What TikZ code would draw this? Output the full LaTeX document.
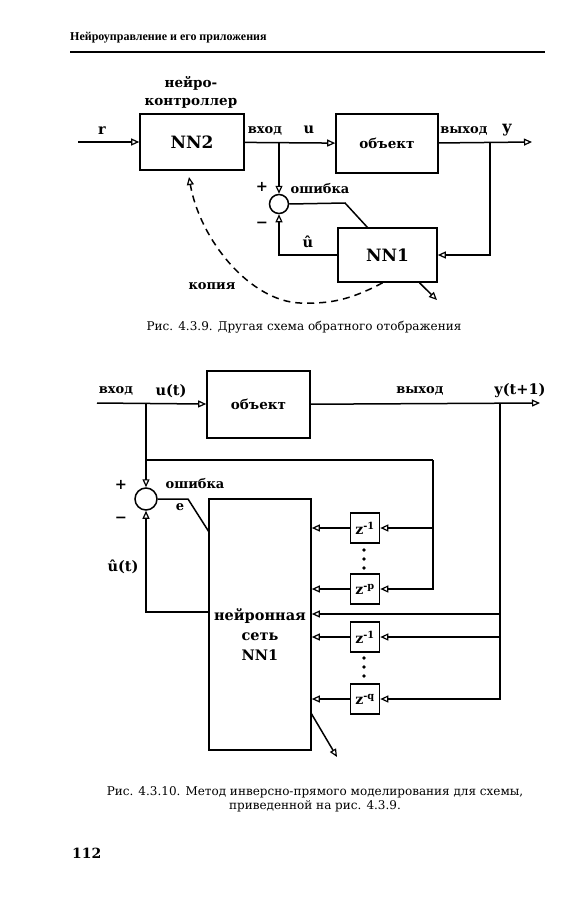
\documentclass[tikz,border=0pt]{standalone}
\usepackage{fontspec}
\setmainfont{DejaVu Serif}
\newfontfamily\headfont{Liberation Serif}
\usetikzlibrary{arrows.meta,positioning,calc}

\begin{document}
\begin{tikzpicture}[x=1pt,y=-1pt,
  box/.style={draw,line width=1.6pt,inner sep=0pt,font=\bfseries\fontsize{13.5}{15}\selectfont},
  bignm/.style={font=\bfseries\fontsize{17}{19}\selectfont},
  wire/.style={line width=1.5pt},
  sig/.style={wire,-{Triangle[open,length=8pt,width=7pt,line width=1.2pt]}},
  sumc/.style={draw,circle,line width=1.5pt,inner sep=0pt},
  lbl/.style={font=\bfseries\fontsize{13}{15}\selectfont,inner sep=0pt},
  var/.style={font=\bfseries\fontsize{14.5}{16}\selectfont,inner sep=0pt},
  delay/.style={draw,line width=1.6pt,minimum width=29pt,minimum height=30pt,inner sep=0pt,
    font=\bfseries\fontsize{14}{16}\selectfont},
  dot/.style={circle,fill,inner sep=0pt,minimum size=3.8pt},
  capt/.style={font=\fontsize{12}{14}\selectfont,align=center,inner sep=0pt}]
\useasboundingbox (0,0) rectangle (564,900);

% page head
\node[anchor=west,inner sep=0pt,font=\headfont\bfseries\fontsize{12}{14}\selectfont]
  (head) at (70,38) {Нейроуправление и его приложения};
\draw[line width=2.2pt] (70,52) -- (545,52);

% --- fig. 4.3.9 ---
\node[box,bignm,minimum width=104pt,minimum height=56pt] (nn2) at (192,142) {NN2};
\node[box,minimum width=102pt,minimum height=59pt] (obj) at (387,143.5) {объект};
\node[box,bignm,minimum width=99pt,minimum height=54pt] (nn1) at (387.5,255) {NN1};
\node[sumc,minimum size=19pt] (sum1) at (279,204) {};
\node[lbl,align=center,font=\bfseries\fontsize{13.5}{18}\selectfont] (ctl) at (191,92) {нейро-\\контроллер};

\coordinate (rin) at (78,142);
\coordinate (j1) at (279,142);
\coordinate (j2) at (490,142);
\coordinate (yout) at (532,142);
\coordinate (k1) at (345,203);
\coordinate (e1) at (368,228);
\coordinate (o1) at (437,300);
\coordinate (cp) at (300,303);
\coordinate (tip) at (189,177);

\draw[sig] (rin) -- (nn2);
\draw[sig] (nn2) -- (obj);
\draw[sig] (obj) -- (yout);
\draw[sig] (j1) -- (sum1.north);
\draw[sig] (j2) |- (nn1);
\draw[wire] (sum1.east) -- (k1) -- (e1);
\draw[sig] (nn1.west) -| (sum1.south);
\draw[sig] (nn1.-41) -- (o1);
\draw[wire,dash pattern=on 7pt off 5pt,-{Triangle[open,length=8pt,width=7pt,line width=1.2pt]}]
  (nn1.-100) .. controls (350,300) and (330,304) .. (cp)
  .. controls (250,301) and (200,240) .. (tip);

\node[var] (rl) at (102,131) {r};
\node[lbl] (inl) at (265,131) {вход};
\node[var] (ul) at (309,130) {u};
\node[lbl] (outl) at (464,131) {выход};
\node[var,font=\bfseries\fontsize{16}{17}\selectfont] (yl) at (507,130) {y};
\node[var] (pl1) at (262,187) {+};
\node[lbl] (errl) at (320,189) {ошибка};
\node[var] (ml1) at (262,225) {−};
\node[var] (uhl) at (308,242) {û};
\node[lbl] (cpl) at (212,286) {копия};

\node[capt] (cap1) at (304,327) {Рис. 4.3.9. Другая схема обратного отображения};

% --- fig. 4.3.10 ---
\node[box,minimum width=103pt,minimum height=67pt] (obj2) at (258.5,404.5) {объект};
\node[box,minimum width=102pt,minimum height=251pt] (nn) at (260,624.5) {};
\node[lbl,align=center,font=\bfseries\fontsize{14.5}{20}\selectfont] (nnl) at (260,635) {нейронная\\сеть\\NN1};
\node[sumc,minimum size=22pt] (sum2) at (146,499) {};
\node[delay] (z1) at (365,528) {z\textsuperscript{-1}};
\node[delay] (zp) at (365,589) {z\textsuperscript{-p}};
\node[delay] (zq1) at (365,637) {z\textsuperscript{-1}};
\node[delay] (zq) at (365,699) {z\textsuperscript{-q}};
\foreach \yy in {550,559,568,658,667,676}
  \node[dot] at (364,\yy) {};

\coordinate (in2) at (97,403);
\coordinate (j3) at (146,403);
\coordinate (out2) at (540,403);
\coordinate (j4) at (500,403);
\coordinate (fb) at (146,460);
\coordinate (fbr) at (433,460);
\coordinate (ydir) at (500,614);
\coordinate (k2) at (188,499);
\coordinate (e2) at (209,532);
\coordinate (uh) at (209,612);
\coordinate (o2a) at (311,713);
\coordinate (o2b) at (337,757);

\draw[sig] (in2) -- (obj2);
\draw[sig] (obj2) -- (out2);
\draw[sig] (j3) -- (sum2.north);
\draw[wire] (fb) -- (fbr);
\draw[sig] (fbr) |- (zp);
\draw[sig] (fbr |- z1) -- (z1);
\draw[sig] (j4) |- (zq);
\draw[sig] (j4 |- zq1) -- (zq1);
\draw[sig] (ydir) -- (ydir -| nn.east);
\foreach \zz in {z1,zp,zq1,zq}
  \draw[sig] (\zz) -- (\zz -| nn.east);
\draw[wire] (sum2.east) -- (k2) -- (e2);
\draw[sig] (uh) -| (sum2.south);
\draw[sig] (o2a) -- (o2b);

\node[lbl] (inl2) at (116,391) {вход};
\node[var] (ut) at (171,391) {u(t)};
\node[lbl] (outl2) at (420,391) {выход};
\node[var] (yt) at (520,391) {y(t+1)};
\node[var] (pl2) at (121,485) {+};
\node[lbl] (errl2) at (195,484) {ошибка};
\node[lbl] (el) at (180,507) {e};
\node[var] (ml2) at (121,520) {−};
\node[var] (uhl2) at (123,567) {û(t)};

\node[capt] (cap2) at (315,799) {Рис. 4.3.10. Метод инверсно-прямого моделирования для схемы,\\приведенной на рис. 4.3.9.};
\node[anchor=west,inner sep=0pt,font=\bfseries\fontsize{14}{16}\selectfont] (pg) at (72,853) {112};
\end{tikzpicture}
\end{document}
